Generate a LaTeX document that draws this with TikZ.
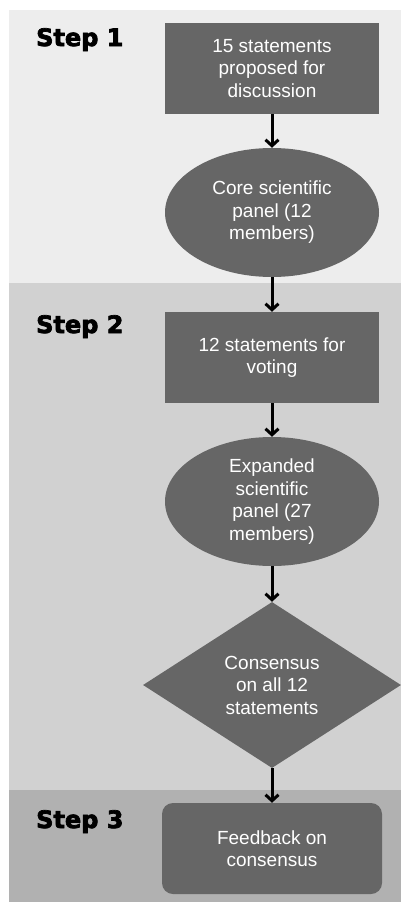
\documentclass[tikz,border=0pt]{standalone}
\usepackage{fontspec}
\setmainfont{Liberation Sans}
\newfontfamily\stepfont[BoldFeatures={FakeBold=3}]{DejaVu Sans}
\usetikzlibrary{arrows.meta,shapes.geometric}
\definecolor{bandA}{HTML}{EDEDED}
\definecolor{bandB}{HTML}{D1D1D1}
\definecolor{bandC}{HTML}{B1B1B1}
\definecolor{shapefill}{HTML}{666666}
\tikzset{
  shapetext/.style={fill=shapefill, text=white, align=center, inner sep=0pt,
    font=\fontsize{19}{22.5}\selectfont},
  boxnode/.style={shapetext, rectangle, minimum width=214pt, minimum height=91pt},
  ellnode/.style={shapetext, ellipse, minimum width=214pt, minimum height=129pt},
  dianode/.style={shapetext, diamond, minimum width=258pt, minimum height=166pt},
  roundnode/.style={shapetext, rectangle, rounded corners=11pt, minimum width=220pt, minimum height=91pt},
  steplabel/.style={anchor=base west, inner sep=0pt, font=\stepfont\bfseries\fontsize{24}{28}\selectfont},
  arr/.style={line width=3pt, -{Straight Barb[length=6pt,width=13pt]}}
}
\begin{document}
\begin{tikzpicture}[x=1pt,y=-1pt]
\useasboundingbox (0,0) rectangle (401,902);
\fill[white] (0,0) rectangle (401,902);
\fill[bandA] (9,10) rectangle (401,283);
\fill[bandB] (9,283) rectangle (401,790);
\fill[bandC] (9,790) rectangle (401,902);

\node[steplabel] (s1) at (36,46) {Step 1};
\node[steplabel] (s2) at (36,333) {Step 2};
\node[steplabel] (s3) at (36,828) {Step 3};

\node[boxnode] (b1) at (272,68.5) {15 statements\\proposed for\\discussion};
\node[ellnode] (e1) at (272,212.5) {Core scientific\\panel (12\\members)};
\node[boxnode] (b2) at (272,357.5) {12 statements for\\voting};
\node[ellnode] (e2) at (272,501.5) {Expanded\\scientific\\panel (27\\members)};
\node[dianode] (d1) at (272,685) {Consensus\\on all 12\\statements};
\node[roundnode] (b3) at (272,848.5) {Feedback on\\consensus};

\draw[arr] (b1) -- (e1);
\draw[arr] (e1) -- (b2);
\draw[arr] (b2) -- (e2);
\draw[arr] (e2) -- (d1);
\draw[arr] (d1) -- (b3);
\end{tikzpicture}
\end{document}
